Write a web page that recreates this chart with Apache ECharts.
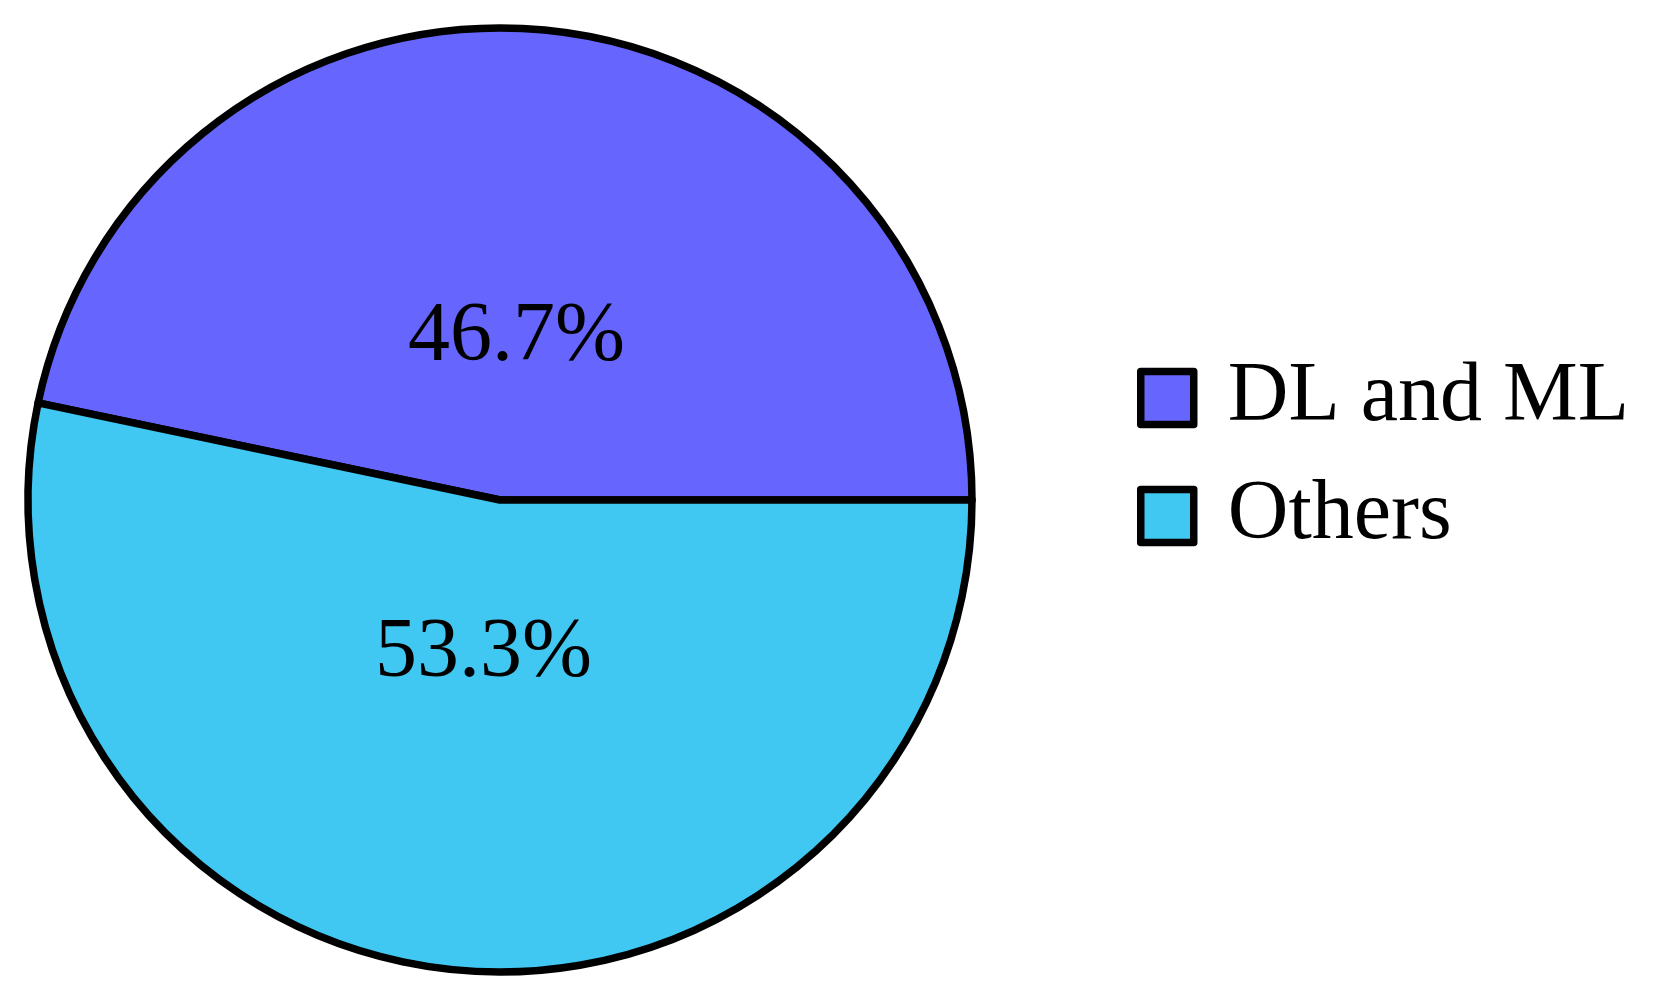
<!DOCTYPE html>
<html lang="en">
<head>
    <meta charset="UTF-8">
    <title>Pie</title>
    <script src="https://cdn.jsdelivr.net/npm/echarts@6/dist/echarts.min.js"></script>
    <style type="text/css">
        * { margin: 0; padding: 0; }
        html, body { height: 100%; background: #fff; }
    </style>
</head>
<body>
<div id="main" style="width: 1675px;height:990px;"></div>
<script type="text/javascript">
    // data
    var categories = ['DL and ML', 'Others'];
    var values = [46.7, 53.3];
    var colors = ['#6666ff', '#40c8f2'];

    var pieData = categories.map(function (name, i) {
        return {name: name, value: values[i], itemStyle: {color: colors[i]}};
    });

    var myChart = echarts.init(document.getElementById('main'));
    var font = '"Liberation Serif", "DejaVu Serif", serif';
    var option = {
        animation: false,
        backgroundColor: '#fff',
        legend: {
            orient: 'vertical',
            left: 1132,
            top: 351,
            icon: 'rect',
            itemWidth: 53,
            itemHeight: 53,
            itemGap: 34,
            data: categories,
            itemStyle: {borderColor: '#000', borderWidth: 7.5},
            textStyle: {
                fontFamily: font,
                fontSize: 84,
                color: '#000',
                padding: [0, 0, 0, 29]
            }
        },
        series: [
            {
                // main pie
                type: 'pie',
                center: [500, 500],
                radius: [0, 472],
                startAngle: 0,
                clockwise: false,
                silent: true,
                itemStyle: {borderColor: '#000', borderWidth: 7.5},
                label: {show: false},
                labelLine: {show: false},
                data: pieData
            },
            {
                // labels only
                type: 'pie',
                center: [500, 500],
                radius: [0, 311],
                startAngle: 0,
                clockwise: false,
                silent: true,
                legendHoverLink: false,
                itemStyle: {color: 'rgba(0,0,0,0)', borderWidth: 0},
                label: {
                    show: true,
                    position: 'inside',
                    offset: [0, -4],
                    fontFamily: font,
                    fontSize: 84,
                    color: '#000',
                    formatter: function (p) { return p.value.toFixed(1) + '%'; }
                },
                labelLine: {show: false},
                data: categories.map(function (name, i) {
                    return {name: name + ' ', value: values[i]};
                })
            }
        ]
    };
    myChart.setOption(option);
</script>
</body>
</html>
